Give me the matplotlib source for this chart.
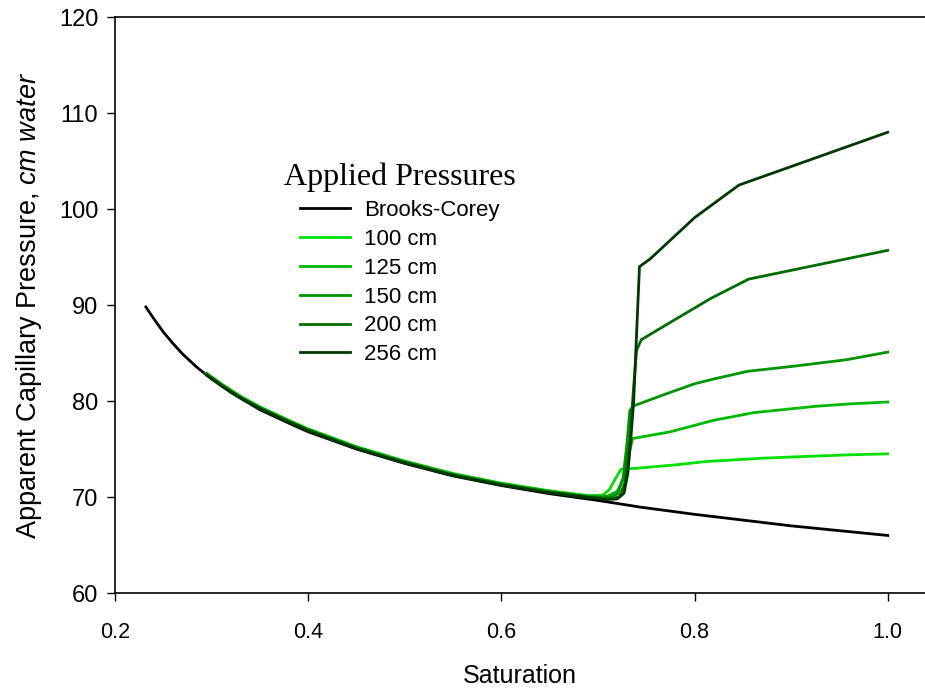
import matplotlib
matplotlib.use("Agg")
import matplotlib.pyplot as plt
from matplotlib.font_manager import FontProperties

# ---------------- data ----------------
bc_x = [0.232, 0.24, 0.25, 0.26, 0.27, 0.285, 0.30, 0.32, 0.35, 0.38, 0.40,
        0.45, 0.50, 0.55, 0.60, 0.65, 0.70, 0.744, 0.80, 0.871, 0.90, 0.95, 1.00]
bc_y = [89.8, 88.6, 87.2, 86.0, 84.9, 83.5, 82.3, 80.9, 79.1, 77.7, 76.8,
        75.0, 73.5, 72.2, 71.2, 70.35, 69.65, 68.95, 68.2, 67.35, 67.0, 66.5, 66.0]

low_x = [0.295, 0.31, 0.33, 0.35, 0.38, 0.40, 0.45, 0.50, 0.55, 0.60, 0.65, 0.69]

p100_x = low_x + [0.705, 0.712, 0.718, 0.724, 0.74, 0.78, 0.812, 0.871, 0.92, 0.96, 1.0]
p100_y = [82.9, 81.8, 80.5, 79.4, 78.0, 77.1, 75.25, 73.75, 72.45, 71.45, 70.65, 70.15,
          70.2, 70.8, 71.9, 72.9, 73.0, 73.35, 73.7, 74.05, 74.25, 74.4, 74.5]

p125_x = low_x + [0.71, 0.72, 0.727, 0.732, 0.736, 0.775, 0.82, 0.862, 0.925, 0.96, 1.0]
p125_y = [82.85, 81.75, 80.45, 79.35, 77.95, 77.05, 75.2, 73.7, 72.4, 71.4, 70.6, 70.1,
          70.1, 70.6, 72.0, 74.5, 76.1, 76.8, 78.0, 78.8, 79.45, 79.7, 79.9]

p150_x = low_x + [0.71, 0.72, 0.726, 0.73, 0.733, 0.737, 0.772, 0.80, 0.82, 0.855, 0.90, 0.957, 1.0]
p150_y = [82.8, 81.7, 80.4, 79.3, 77.9, 77.0, 75.15, 73.65, 72.35, 71.35, 70.55, 70.05,
          70.0, 70.3, 72.0, 75.5, 79.0, 79.5, 80.8, 81.8, 82.3, 83.1, 83.6, 84.3, 85.1]

p200_x = low_x + [0.71, 0.722, 0.728, 0.733, 0.737, 0.740, 0.745, 0.775, 0.817, 0.856, 1.0]
p200_y = [82.75, 81.65, 80.35, 79.25, 77.85, 76.95, 75.1, 73.6, 72.3, 71.3, 70.5, 70.0,
          69.85, 70.0, 71.5, 76.0, 81.5, 85.3, 86.4, 88.2, 90.7, 92.7, 95.7]

p256_x = low_x + [0.71, 0.72, 0.727, 0.731, 0.734, 0.737, 0.740, 0.743, 0.754, 0.80, 0.846, 1.0]
p256_y = [82.7, 81.6, 80.3, 79.2, 77.8, 76.9, 75.05, 73.55, 72.25, 71.25, 70.45, 69.95,
          69.75, 69.8, 70.4, 72.5, 76.0, 80.0, 87.0, 94.0, 94.8, 99.1, 102.5, 108.0]

labels = ["Brooks-Corey", "100 cm", "125 cm", "150 cm", "200 cm", "256 cm"]
colors = ["#000000", "#00e000", "#00b800", "#009400", "#006c00", "#003800"]

x_ticks = [0.2, 0.4, 0.6, 0.8, 1.0]
x_ticklabels = ["0.2", "0.4", "0.6", "0.8", "1.0"]
y_ticks = [60, 70, 80, 90, 100, 110, 120]

# ---------------- figure ----------------
plt.rcParams['font.family'] = ['Liberation Sans', 'DejaVu Sans']
plt.rcParams['mathtext.fontset'] = 'custom'
plt.rcParams['mathtext.rm'] = 'Liberation Sans'
plt.rcParams['mathtext.it'] = 'Liberation Sans:italic'

fig = plt.figure(figsize=(9.25, 6.88), dpi=100)
ax = fig.add_axes([0.1243, 0.138, 0.8757, 0.8372])

series = [(bc_x, bc_y), (p100_x, p100_y), (p125_x, p125_y), (p150_x, p150_y),
          (p200_x, p200_y), (p256_x, p256_y)]
for (sx, sy), lab, col in zip(series, labels, colors):
    ax.plot(sx, sy, color=col, lw=2.0, label=lab, solid_joinstyle='round')

ax.set_xlim(0.2, 1.0386)
ax.set_ylim(60, 120)
ax.set_xticks(x_ticks)
ax.set_xticklabels(x_ticklabels)
ax.set_yticks(y_ticks)
ax.spines['right'].set_visible(False)
for s in ['left', 'bottom', 'top']:
    ax.spines[s].set_linewidth(1.2)
ax.tick_params(axis='both', direction='out', length=6, width=1.0)
ax.tick_params(axis='x', pad=15, labelsize=15.5)
ax.tick_params(axis='y', pad=6, labelsize=17)

ax.set_xlabel("Saturation", fontsize=18, labelpad=15)
ax.set_ylabel("Apparent Capillary Pressure, $\\mathit{cm\\ water}$", fontsize=19.5, labelpad=11)

leg = ax.legend(loc='upper left', bbox_to_anchor=(0.184, 0.7815), frameon=False,
                fontsize=16, handlelength=2.25, handletextpad=0.6, labelspacing=0.35,
                title="Applied Pressures",
                title_fontproperties=FontProperties(family='Liberation Serif', size=23))
leg._legend_box.align = "center"

fig.savefig("out.png", dpi=100)
